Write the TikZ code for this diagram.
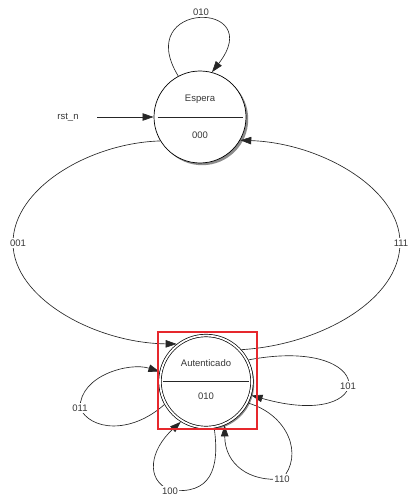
\documentclass[tikz,border=0pt]{standalone}
\usepackage{fontspec}
\setmainfont{Liberation Sans}
\usetikzlibrary{arrows.meta,shadows}
\definecolor{selred}{RGB}{230,40,45}
\definecolor{txt}{RGB}{55,55,55}
\tikzset{
  state/.style={circle, draw=black, line width=0.7pt, fill=white, minimum size=92pt, inner sep=0pt, outer sep=0.5pt,
    drop shadow={shadow xshift=2.2pt, shadow yshift=-2.2pt, fill=black!45, opacity=1}},
  finalstate/.style={state, double=white, double distance=1.8pt, outer sep=1.6pt},
  conn/.style={line width=0.65pt, black!85},
  arr/.style={conn, -{Triangle[length=11pt,width=7.5pt]}},
  lbl/.style={fill=white, inner sep=1.5pt, text=txt, font=\fontsize{9.5}{10}\selectfont},
  stxt/.style={text=txt, inner sep=0pt, font=\fontsize{9.5}{11}\selectfont},
  divider/.style={line width=0.7pt, black!85},
  selarea/.style={minimum width=99pt, minimum height=97pt, inner sep=0pt, outer sep=0pt},
  selline/.style={draw=selred, line width=1.6pt}
}
\begin{document}
\begin{tikzpicture}[x=1pt,y=-1pt]
\useasboundingbox (0,0) rectangle (409,497);
% states
\node[state] (e) at (200,117) {};
\node[finalstate] (a) at (206,381.5) {};
\draw[divider] ([xshift=4pt]e.west) -- ([xshift=-4pt]e.east);
\draw[divider] ([xshift=5pt]a.west) -- ([xshift=-5pt]a.east);
\node[stxt] (etop) at ([yshift=18pt]e.center) {Espera};
\node[stxt] (ebot) at ([yshift=-18pt]e.center) {000};
\node[stxt] (atop) at ([yshift=18.5pt]a.center) {Autenticado};
\node[stxt] (abot) at ([yshift=-14.5pt]a.center) {010};
% reset input
\node[stxt] (rst) at (68,117) {rst\_n};
\coordinate (rstin) at (97,117);
\draw[arr] (rstin) -- (e.west);
% Espera self loop
\draw[arr] (e.118) .. controls (132,0) and (268,0) .. (e.75);
% Espera -> Autenticado
\draw[arr] (e.211) .. controls (90,143) and (13,188) .. (13,243) .. controls (13,298) and (95,343) .. (a.128);
% Autenticado -> Espera
\draw[arr] (a.42) .. controls (320,345) and (400,300) .. (400,243) .. controls (400,188) and (320,143) .. (e.-30);
% Autenticado self loops
\draw[arr] (a.209) .. controls (130,435) and (90,430) .. (80,408) .. controls (80,375) and (130,362) .. (a.168);
\draw[arr] (a.27) .. controls (380,335) and (380,432) .. (a.-17);
\draw[arr] (a.-27) .. controls (288,415) and (304,455) .. (282,479) .. controls (250,482) and (225,465) .. (a.-67);
\draw[arr] (a.-80) .. controls (220,470) and (210,495) .. (170,490) .. controls (145,480) and (150,450) .. (a.238);
% labels
\node[lbl] (l010) at (201,12) {010};
\node[lbl] (l001) at (18,243) {001};
\node[lbl] (l111) at (401,243) {111};
\node[lbl] (l011) at (80,408) {011};
\node[lbl] (l101) at (348,386) {101};
\node[lbl] (l110) at (282,479) {110};
\node[lbl] (l100) at (170,491) {100};
% selection rectangle
\node[selarea] (sel) at (207.5,380.5) {};
\draw[selline] (sel.north west) -- (sel.north east) -- (sel.south east) -- (sel.south west) -- cycle;
\end{tikzpicture}
\end{document}
